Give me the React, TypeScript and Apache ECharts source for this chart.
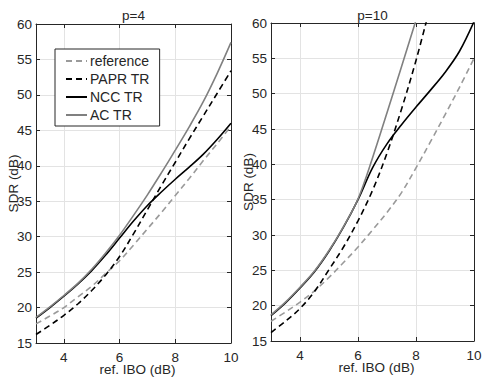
import React, { useEffect, useRef } from 'react';
import * as echarts from 'echarts';

// ref. IBO (dB) sample points
const ibo = [3, 3.5, 4, 4.5, 5, 5.5, 6, 6.5, 7, 7.5, 8, 8.5, 9, 9.5, 10];
const xTicks = [4, 6, 8, 10];
const seriesNames = ['reference', 'PAPR TR', 'NCC TR', 'AC TR'];
const titles = ['p=4', 'p=10'];
const xName = 'ref. IBO (dB)';
const yName = 'SDR (dB)';

// p = 4
const refP4 = [17.7, 18.8, 20.0, 21.5, 23.0, 24.8, 26.6, 28.8, 31.1, 33.4, 35.8, 38.2, 40.7, 43.1, 45.6];
const paprP4 = [16.2, 17.5, 18.9, 20.5, 22.4, 24.6, 27.2, 30.4, 33.8, 37.2, 40.5, 43.8, 47.0, 50.2, 53.4];
const nccP4 = [18.5, 20.0, 21.6, 23.3, 25.2, 27.4, 29.8, 32.2, 34.4, 36.3, 38.1, 39.8, 41.6, 43.7, 46.0];
const acP4 = [18.6, 20.1, 21.7, 23.4, 25.4, 27.7, 30.2, 33.0, 35.9, 39.0, 42.2, 45.5, 49.0, 53.0, 57.4];

// p = 10
const refP10 = [17.8, 19.1, 20.5, 22.1, 24.0, 26.1, 28.3, 30.7, 33.2, 36.0, 39.5, 43.2, 47.0, 50.9, 55.0];
const paprP10 = [16.2, 17.8, 19.6, 22.0, 25.1, 28.3, 32.0, 36.3, 41.6, 47.8, 54.7, 62.5];
const nccP10 = [18.6, 20.4, 22.5, 24.8, 27.7, 31.1, 35.0, 39.5, 42.9, 45.6, 48.1, 50.5, 53.0, 56.0, 60.2];
const acP10 = [18.7, 20.5, 22.6, 24.9, 27.8, 31.2, 35.1, 40.9, 47.3, 53.8, 60.4];

const FONT = 'Liberation Sans, Arial, Helvetica, sans-serif';
const AXIS = '#262626';
const GRIDC = '#e3e3e3';

const lineStyles: Record<string, { color: string; type: any }> = {
  'reference': { color: '#9a9a9a', type: [6, 4] },
  'PAPR TR': { color: '#000000', type: [6, 4] },
  'NCC TR': { color: '#000000', type: 'solid' },
  'AC TR': { color: '#808080', type: 'solid' },
};

function pairs(vals: number[]) {
  return vals.map((v, i) => [ibo[i], v]);
}

function xAxes(gridIndex: number) {
  return [
    {
      type: 'value', gridIndex, position: 'bottom', min: 3, max: 10,
      name: xName, nameLocation: 'middle', nameGap: 19, nameMoveOverlap: false,
      nameTextStyle: { fontFamily: FONT, fontSize: 13.5, color: AXIS, padding: [0, 0, 0, 8] },
      axisLine: { onZero: false, lineStyle: { color: AXIS, width: 1 } },
      axisTick: { inside: true, length: 4, customValues: xTicks, lineStyle: { color: AXIS } },
      axisLabel: { customValues: xTicks, fontFamily: FONT, fontSize: 13.5, color: AXIS, margin: 7 },
      splitLine: { show: true, lineStyle: { color: GRIDC, width: 1 } },
    },
    {
      type: 'value', gridIndex, position: 'top', min: 3, max: 10,
      axisLine: { onZero: false, lineStyle: { color: AXIS, width: 1 } },
      axisTick: { inside: true, length: 4, customValues: xTicks, lineStyle: { color: AXIS } },
      axisLabel: { show: false },
      splitLine: { show: false },
    },
  ];
}

function yAxes(gridIndex: number) {
  return [
    {
      type: 'value', gridIndex, position: 'left', min: 15, max: 60, interval: 5,
      name: yName, nameLocation: 'middle', nameGap: 16, nameMoveOverlap: false,
      nameTextStyle: { fontFamily: FONT, fontSize: 13.5, color: AXIS },
      axisLine: { onZero: false, lineStyle: { color: AXIS, width: 1 } },
      axisTick: { inside: true, length: 4, lineStyle: { color: AXIS } },
      axisLabel: { fontFamily: FONT, fontSize: 13.5, color: AXIS, margin: 4 },
      splitLine: { show: true, lineStyle: { color: GRIDC, width: 1 } },
    },
    {
      type: 'value', gridIndex, position: 'right', min: 15, max: 60, interval: 5,
      axisLine: { onZero: false, lineStyle: { color: AXIS, width: 1 } },
      axisTick: { inside: true, length: 4, lineStyle: { color: AXIS } },
      axisLabel: { show: false },
      splitLine: { show: false },
    },
  ];
}

function makeSeries(name: string, vals: number[], axisIndex: number) {
  const st = lineStyles[name];
  return {
    type: 'line', name, data: pairs(vals),
    xAxisIndex: axisIndex, yAxisIndex: axisIndex,
    symbol: 'none', showSymbol: false, smooth: 0.35, clip: true,
    lineStyle: { color: st.color, type: st.type, width: 1.6 },
    itemStyle: { color: st.color },
    emphasis: { disabled: true },
  };
}

export default function App() {
  const ref = useRef<HTMLDivElement>(null);
  useEffect(() => {
    if (!ref.current) return;
    const chart = echarts.init(ref.current, undefined, { renderer: 'svg' });
    const p4 = [refP4, paprP4, nccP4, acP4];
    const p10 = [refP10, paprP10, nccP10, acP10];
    chart.setOption({
      animation: false,
      backgroundColor: '#ffffff',
      grid: [
        { left: 36, top: 24, width: 195, height: 319, outerBoundsMode: 'none', containLabel: false },
        { left: 271, top: 23, width: 203, height: 318, outerBoundsMode: 'none', containLabel: false },
      ],
      xAxis: [...xAxes(0), ...xAxes(1)],
      yAxis: [...yAxes(0), ...yAxes(1)],
      legend: {
        data: seriesNames,
        orient: 'vertical',
        left: 55, top: 49,
        selectedMode: false,
        backgroundColor: '#ffffff',
        borderColor: AXIS, borderWidth: 1, borderRadius: 0,
        padding: [5, 10, 4, 10],
        itemGap: 4, itemWidth: 21, itemHeight: 14,
        itemStyle: { opacity: 0 },
        textStyle: { fontFamily: FONT, fontSize: 14, color: AXIS, padding: [0, 0, 0, -2] },
      },
      graphic: [
        { type: 'text', x: 133.5, y: 15.5, style: { text: titles[0], align: 'center', verticalAlign: 'middle', font: `13.5px ${FONT}`, fill: AXIS } },
        { type: 'text', x: 372.5, y: 15.5, style: { text: titles[1], align: 'center', verticalAlign: 'middle', font: `13.5px ${FONT}`, fill: AXIS } },
      ],
      series: [
        ...seriesNames.map((n, i) => makeSeries(n, p4[i], 0)),
        ...seriesNames.map((n, i) => makeSeries(n, p10[i], 2)),
      ],
    });
    return () => chart.dispose();
  }, []);
  return (
    <div
      ref={ref}
      style={{ position: 'fixed', left: 0, top: 0, width: 485, height: 378, background: '#fff' }}
    />
  );
}
